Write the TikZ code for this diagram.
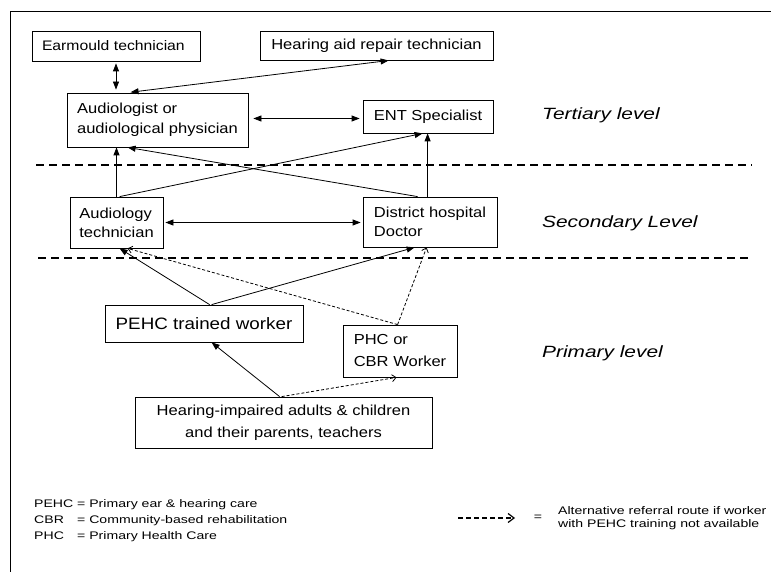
\documentclass[tikz,border=0pt]{standalone}
\usepackage{fontspec}
\setmainfont[FakeStretch=1.14]{Liberation Sans}
\newfontfamily\legfont[FakeStretch=1.28]{Liberation Sans}
\usetikzlibrary{arrows.meta}
\begin{document}
\begin{tikzpicture}[x=1pt,y=-1pt,
  >={Triangle[length=8pt,width=6pt]},
  box/.style={draw, line width=0.8pt, inner sep=0pt, align=left, font=\fontsize{14.5}{20}\selectfont},
  cbox/.style={box, align=center},
  conn/.style={line width=0.8pt, ->},
  bconn/.style={line width=0.8pt, <->},
  alt/.style={line width=0.8pt, dash pattern=on 3pt off 2pt, -{Straight Barb[length=4pt,width=7pt]}},
  sep/.style={line width=1.4pt, dash pattern=on 8pt off 5pt},
  lvl/.style={anchor=west, inner sep=0pt, font=\legfont\fontsize{16.3}{20}\selectfont\itshape},
  leg/.style={anchor=west, inner sep=0pt, font=\legfont\fontsize{11}{16}\selectfont},
  legalt/.style={line width=1.2pt, dash pattern=on 5pt off 3pt, -{Straight Barb[length=6pt,width=9pt]}}
]
\useasboundingbox (0,0) rectangle (771,572);
\draw[line width=1pt] (771,12) -- (10,12) -- (10,572);

% boxes
\node[box, text width=148pt, inner xsep=10pt, minimum height=30pt, font=\fontsize{13.8}{20}\selectfont] (ear) at (116,46) {Earmould technician};
\node[cbox, minimum width=233pt, minimum height=29pt] (har) at (376.5,45.5) {Hearing aid repair technician};
\node[box, minimum width=181pt, minimum height=54pt] (aud) at (157.5,120) {Audiologist or\\audiological physician};
\node[box, minimum width=130pt, minimum height=33pt] (ent) at (428,116.5) {ENT Specialist};
\node[box, minimum width=93pt, minimum height=51pt, font=\fontsize{14.5}{19}\selectfont] (atech) at (116.5,222.5) {Audiology\\technician};
\node[box, minimum width=134pt, minimum height=50pt, font=\fontsize{14.5}{19}\selectfont] (dhd) at (430,222) {District hospital\\Doctor};
\node[cbox, minimum width=198pt, minimum height=37pt, font=\fontsize{16.5}{20}\selectfont] (pehc) at (204,323.5) {PEHC trained worker};
\node[box, minimum width=114pt, minimum height=52pt, font=\fontsize{14.5}{22}\selectfont] (phc) at (400,351) {PHC or\\CBR Worker};
\node[cbox, minimum width=297pt, minimum height=51pt, font=\fontsize{14.5}{22}\selectfont] (hi) at (283.5,422.5) {Hearing-impaired adults \& children\\and their parents, teachers};

% level separators
\draw[sep] (36,165) -- (752,165);
\draw[sep] (38,258) -- (752,258);

% level labels
\node[lvl] (lt) at (542,115) {Tertiary level};
\node[lvl] (ls) at (542,223) {Secondary Level};
\node[lvl] (lp) at (542,353) {Primary level};

% connectors
\draw[bconn, shorten <=2pt, shorten >=3pt] (ear.south) -- (ear.south |- aud.north);
\draw[bconn, shorten <=3pt, shorten >=1pt] ([xshift=61pt]aud.north west) -- ([xshift=130pt]har.south west);
\draw[bconn, shorten <=5pt, shorten >=3pt] ([yshift=1.5pt]aud.east) -- ([yshift=1.5pt]aud.east -| ent.west);
\draw[conn] (atech.north) -- (atech.north |- aud.south);
\draw[conn] ([xshift=50pt]atech.north west) -- ([xshift=60pt]ent.south west);
\draw[conn] ([xshift=55pt]dhd.north west) -- ([xshift=61pt]aud.south west);
\draw[conn] ([xshift=65pt]dhd.north west) -- ([xshift=65pt]dhd.north west |- ent.south);
\draw[bconn, shorten <=2pt, shorten >=2pt] (atech.east) -- (atech.east -| dhd.west);
\draw[conn] ([xshift=105pt]pehc.north west) -- ([xshift=50pt]atech.south west);
\draw[conn] ([xshift=107pt]pehc.north west) -- ([xshift=52pt]dhd.south west);
\draw[alt] ([xshift=55pt]phc.north west) -- ([xshift=58pt]atech.south west);
\draw[alt] ([xshift=55pt]phc.north west) -- ([xshift=64pt]dhd.south west);
\draw[conn] ([xshift=145pt]hi.north west) -- ([xshift=107pt]pehc.south west);
\draw[alt] ([xshift=147pt]hi.north west) -- ([xshift=54pt]phc.south west);

% legend
\node[leg] (lg1) at (34,505) {\makebox[43pt][l]{PEHC}= Primary ear \& hearing care};
\node[leg] (lg2) at (34,521) {\makebox[43pt][l]{CBR}= Community-based rehabilitation};
\node[leg] (lg3) at (34,537) {\makebox[43pt][l]{PHC}= Primary Health Care};
\coordinate (la) at (458,518);
\coordinate (lb) at (515,518);
\draw[legalt] (la) -- (lb);
\node[inner sep=0pt, font=\legfont\fontsize{11}{16}\selectfont] (eq) at (538,518) {=};
\node[leg] (alt1) at (558,511) {Alternative referral route if worker};
\node[leg] (alt2) at (558,525) {with PEHC training not available};
\end{tikzpicture}
\end{document}
